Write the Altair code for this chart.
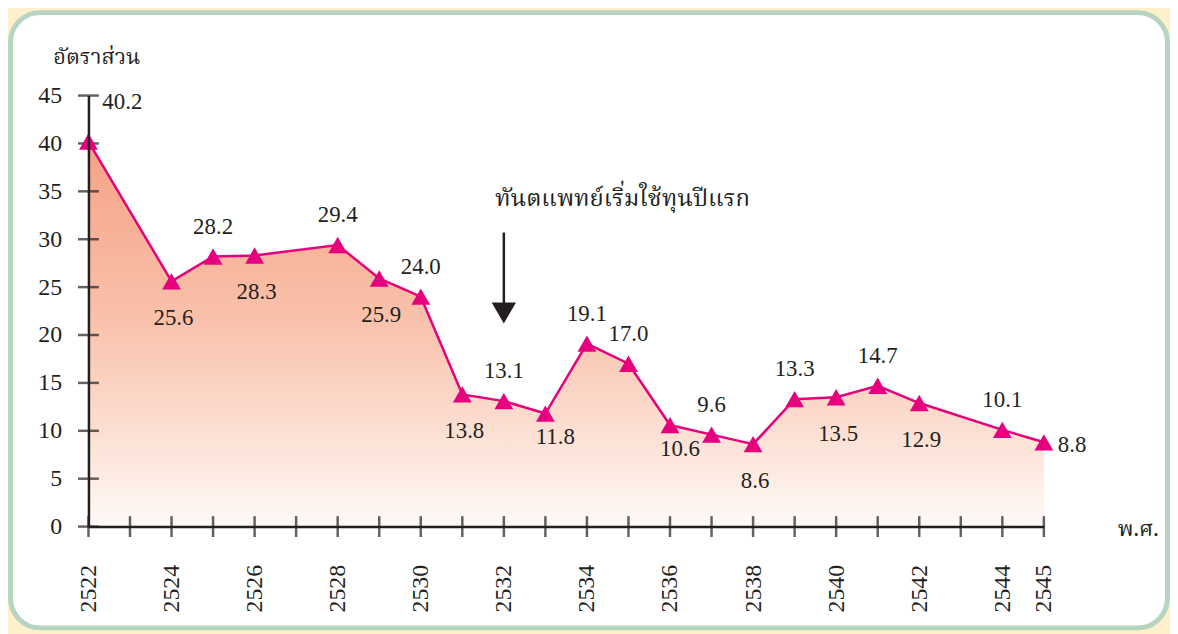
import altair as alt
import pandas as pd

# ---- data ----
years = [2522, 2524, 2525, 2526, 2528, 2529, 2530, 2531, 2532, 2533, 2534,
         2535, 2536, 2537, 2538, 2539, 2540, 2541, 2542, 2544, 2545]
ratios = [40.2, 25.6, 28.2, 28.3, 29.4, 25.9, 24.0, 13.8, 13.1, 11.8, 19.1,
          17.0, 10.6, 9.6, 8.6, 13.3, 13.5, 14.7, 12.9, 10.1, 8.8]
label_text = ["40.2", "25.6", "28.2", "28.3", "29.4", "25.9", "24.0", "13.8", "13.1", "11.8", "19.1",
              "17.0", "10.6", "9.6", "8.6", "13.3", "13.5", "14.7", "12.9", "10.1", "8.8"]

# label placement groups (by year)
above_years = [2525, 2528, 2530, 2532, 2534, 2535, 2537, 2539, 2541, 2544]
below_years = [2524, 2526, 2529, 2531, 2538, 2540, 2542]
below_near_years = [2533, 2536]
upright_years = [2522]
right_years = [2545]

x_tick_years = [2522, 2523, 2524, 2525, 2526, 2527, 2528, 2529, 2530, 2531, 2532, 2533,
                2534, 2535, 2536, 2537, 2538, 2539, 2540, 2541, 2542, 2543, 2544, 2545]
x_label_years = [2522, 2524, 2526, 2528, 2530, 2532, 2534, 2536, 2538, 2540, 2542, 2544, 2545]
y_ticks = [0, 5, 10, 15, 20, 25, 30, 35, 40, 45]

y_title = "อัตราส่วน"
x_title = "พ.ศ."
note_text = "ทันตแพทย์เริ่มใช้ทุนปีแรก"
note_year = 2532

# ---- styling ----
MAG = "#e6007e"
INK = "#231f20"
NUM_FONT = "Liberation Serif, DejaVu Serif, serif"
THAI_FONT = "Noto Serif Thai, Noto Sans Thai, Liberation Serif, serif"
W, H = 962, 434

def side_of(y):
    if y in above_years:
        return "above"
    if y in below_years:
        return "below"
    if y in below_near_years:
        return "below_near"
    if y in upright_years:
        return "upright"
    return "right"

df = pd.DataFrame({"year": years, "ratio": ratios, "label": label_text})
df["side"] = [side_of(y) for y in years]

xscale = alt.Scale(domain=[2522, 2545], nice=False, zero=False)
yscale = alt.Scale(domain=[0, 45], nice=False)

x_axis = alt.Axis(values=x_label_years, ticks=False, grid=False, format="d", zindex=1,
                  labelAngle=270, labelPadding=38,
                  title=x_title, titleX=1036, titleY=9, titleAlign="left",
                  titleBaseline="alphabetic", titleAngle=0)
y_axis = alt.Axis(values=y_ticks, ticks=False, grid=False, zindex=1, labelPadding=27,
                  title=y_title, titleX=-36, titleY=-32, titleAlign="left",
                  titleBaseline="alphabetic", titleAngle=0)

X = alt.X("year:Q", scale=xscale, axis=x_axis)
Y = alt.Y("ratio:Q", scale=yscale, axis=y_axis)

# decorative rounded panel (background frame)
panel = alt.Chart(pd.DataFrame({"p": [0]})).mark_rect(
    fill="white", stroke="#b7d4c0", strokeWidth=5, cornerRadius=30
).encode(x=alt.value(-78.5), x2=alt.value(1086.5), y=alt.value(-83.5), y2=alt.value(536))

base = alt.Chart(df)

area = base.mark_area(
    line=False,
    color=alt.Gradient(gradient="linear",
                       stops=[alt.GradientStop(color="#f6a284", offset=0),
                              alt.GradientStop(color="#f9c0aa", offset=0.45),
                              alt.GradientStop(color="#fde9e0", offset=0.85),
                              alt.GradientStop(color="#fffaf8", offset=1)],
                       x1=0, x2=0, y1=0, y2=1)
).encode(x=X, y=Y)

line = base.mark_line(color=MAG, strokeWidth=2.5).encode(x=X, y=Y)
pts = base.mark_point(shape="triangle-up", filled=True, color=MAG, size=360, opacity=1).encode(x=X, y=Y)

xt = alt.Chart(pd.DataFrame({"year": x_tick_years})).mark_tick(
    orient="vertical", size=21, thickness=2.5, color=INK
).encode(x=X, y=alt.datum(0, scale=yscale))
yt = alt.Chart(pd.DataFrame({"ratio": y_ticks})).mark_tick(
    orient="horizontal", size=21, thickness=2.5, color=INK
).encode(y=Y, x=alt.datum(2522, scale=xscale))

def labels(side, dx, dy, align="center"):
    return base.transform_filter(alt.datum.side == side).mark_text(
        font=NUM_FONT, fontSize=23, color=INK, dx=dx, dy=dy, align=align, baseline="middle"
    ).encode(x=X, y=Y, text="label:N")

lab = (labels("above", 0, -30) + labels("below", 2, 37) + labels("below_near", 10, 24)
       + labels("upright", 14, -40, "left") + labels("right", 14, 3, "left"))

note_df = pd.DataFrame({"year": [note_year]})
note = alt.Chart(note_df).mark_text(
    font=THAI_FONT, fontSize=24, color=INK, align="left", baseline="alphabetic", dx=-9
).encode(x=X, y=alt.datum(33.5, scale=yscale), text=alt.value(note_text))
arrow_line = alt.Chart(note_df).mark_rule(color=INK, strokeWidth=2.5).encode(
    x=X, y=alt.datum(30.7, scale=yscale), y2=alt.datum(23.0))
arrow_head = alt.Chart(note_df).mark_point(shape="triangle-down", filled=True, color=INK,
                                           size=600, opacity=1).encode(
    x=X, y=alt.datum(22.3, scale=yscale))

chart = alt.layer(panel, area, line, xt, yt, pts, lab, note, arrow_line, arrow_head).properties(
    width=W, height=H,
    autosize=alt.AutoSizeParams(type="none"),
    padding={"left": 81, "top": 86, "right": 127, "bottom": 106},
    background="#fdf0cb",
).configure_view(stroke=None).configure_axis(
    labelFont=NUM_FONT, labelFontSize=24, labelColor=INK,
    domainColor=INK, domainWidth=2.5,
    titleFont=THAI_FONT, titleFontSize=22, titleFontWeight="normal", titleColor=INK,
)

chart.save("out.html", embed_options={"renderer": "svg", "actions": False})
